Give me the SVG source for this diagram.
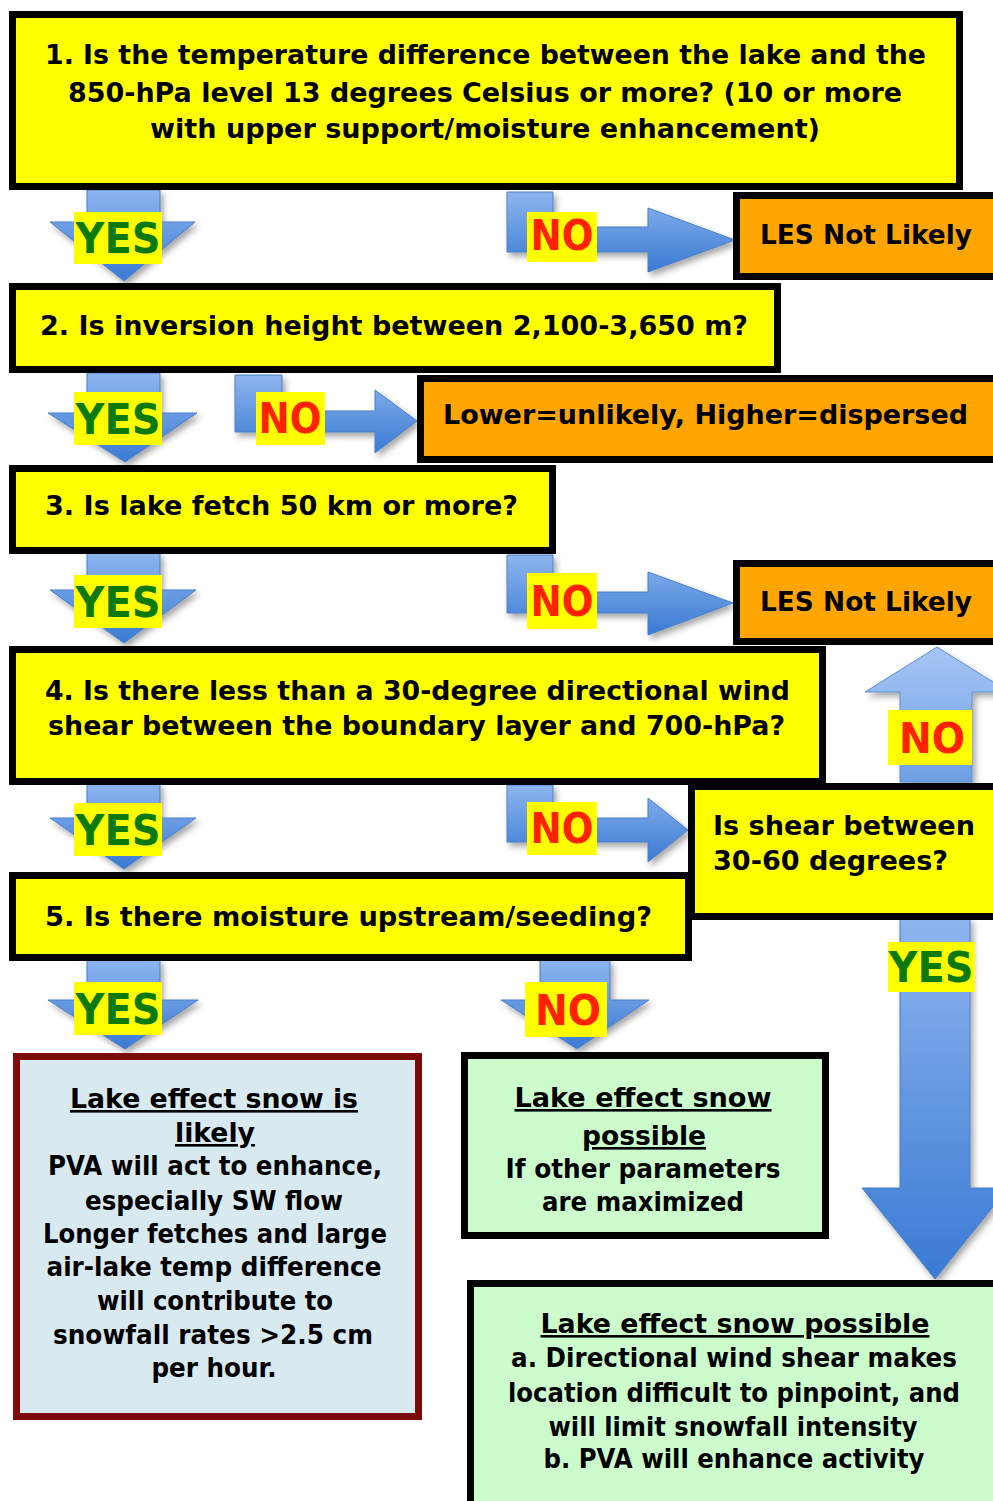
<svg xmlns="http://www.w3.org/2000/svg" width="993" height="1501" viewBox="0 0 993 1501">
<defs>
  <linearGradient id="gArrow" x1="0" y1="0" x2="0" y2="1">
    <stop offset="0" stop-color="#8db5ef"/>
    <stop offset="1" stop-color="#3a7ad3"/>
  </linearGradient>
  <linearGradient id="gUp" x1="0" y1="0" x2="0" y2="1">
    <stop offset="0" stop-color="#a6c6f5"/>
    <stop offset="1" stop-color="#6d9fe2"/>
  </linearGradient>
  <filter id="sh" x="-20%" y="-20%" width="150%" height="150%">
    <feDropShadow dx="3" dy="4" stdDeviation="3" flood-color="#000" flood-opacity="0.35"/>
  </filter>
</defs>
<style>
  .arrow { fill: url(#gArrow); stroke: #4a7fc8; stroke-width: 1; filter: url(#sh); }
  .arrowUp { fill: url(#gUp); stroke: #5c8fd6; stroke-width: 1; filter: url(#sh); }
  .lbl { fill: #ffff00; }
  .yes { font-family: "DejaVu Sans", Verdana, sans-serif; font-weight: bold; font-size: 42px; fill: #0b7a0b; text-anchor: middle; }
  .no { font-family: "DejaVu Sans", Verdana, sans-serif; font-weight: bold; font-size: 42px; fill: #ff2200; text-anchor: middle; }
  .q { fill: #ffff00; stroke: #000; stroke-width: 7; }
  .o { fill: #ffa500; stroke: #000; stroke-width: 7; }
  .g { fill: #ccfccc; stroke: #000; stroke-width: 7; }
  .b { fill: #d8e9f0; stroke: #7d0a0a; stroke-width: 7; }
  .t { font-family: "DejaVu Sans", Verdana, sans-serif; font-weight: bold; font-size: 27px; fill: #000; }
  .s { font-family: "DejaVu Sans", Verdana, sans-serif; font-weight: bold; font-size: 26px; fill: #000; text-anchor: middle; }
  .u { text-decoration: underline; }
</style>

<g id="connectors">
  <path class="arrow" d="M87,190 H160 V222 H195 L124,281 L50,222 H87 Z"/>
  <path class="arrow" d="M87,373 H160 V413 H197 L125,462 L48,413 H87 Z"/>
  <path class="arrow" d="M87,553 H160 V590 H196 L124,643 L50,590 H87 Z"/>
  <path class="arrow" d="M87,784 H160 V818 H196 L124,869 L50,818 H87 Z"/>
  <path class="arrow" d="M87,960 H160 V1000 H198 L125,1049 L48,1000 H87 Z"/>
  <path class="arrow" d="M540,960 H610 V1000 H649 L577,1049 L501,1000 H540 Z"/>
  <path class="arrow" d="M507,192 H553 V227 H648 V208 L735,240 L648,272 V252 H507 Z"/>
  <path class="arrow" d="M235,375 H282 V411 H375 V390 L417,421 L375,453 V432 H235 Z"/>
  <path class="arrow" d="M507,555 H553 V592 H648 V572 L733,603 L648,635 V613 H507 Z"/>
  <path class="arrow" d="M507,785 H553 V818 H648 V798 L688,830 L648,862 V842 H507 Z"/>
  <path class="arrowUp" d="M900,782 V692 H865 L937,647 L1009,692 H972 V782 Z"/>
  <path class="arrow" d="M900,918 H970 V1188 H1008 L935,1279 L862,1188 H900 Z"/>

  <rect class="lbl" x="74" y="212" width="88" height="52"/>
  <text class="yes" x="118" y="253" textLength="85" lengthAdjust="spacingAndGlyphs">YES</text>
  <rect class="lbl" x="74" y="392" width="88" height="53"/>
  <text class="yes" x="118" y="434" textLength="85" lengthAdjust="spacingAndGlyphs">YES</text>
  <rect class="lbl" x="74" y="575" width="88" height="53"/>
  <text class="yes" x="118" y="617" textLength="85" lengthAdjust="spacingAndGlyphs">YES</text>
  <rect class="lbl" x="74" y="803" width="88" height="53"/>
  <text class="yes" x="118" y="845" textLength="85" lengthAdjust="spacingAndGlyphs">YES</text>
  <rect class="lbl" x="74" y="982" width="88" height="53"/>
  <text class="yes" x="118" y="1024" textLength="85" lengthAdjust="spacingAndGlyphs">YES</text>
  <rect class="lbl" x="888" y="942" width="87" height="50"/>
  <text class="yes" x="931" y="982" textLength="85" lengthAdjust="spacingAndGlyphs">YES</text>

  <rect class="lbl" x="527" y="212" width="70" height="50"/>
  <text class="no" x="562" y="250" textLength="63" lengthAdjust="spacingAndGlyphs">NO</text>
  <rect class="lbl" x="256" y="392" width="69" height="53"/>
  <text class="no" x="290" y="433" textLength="63" lengthAdjust="spacingAndGlyphs">NO</text>
  <rect class="lbl" x="527" y="573" width="70" height="56"/>
  <text class="no" x="562" y="616" textLength="63" lengthAdjust="spacingAndGlyphs">NO</text>
  <rect class="lbl" x="527" y="802" width="70" height="53"/>
  <text class="no" x="562" y="843" textLength="63" lengthAdjust="spacingAndGlyphs">NO</text>
  <rect class="lbl" x="525" y="982" width="82" height="55"/>
  <text class="no" x="568" y="1025" textLength="66" lengthAdjust="spacingAndGlyphs">NO</text>
  <rect class="lbl" x="888" y="710" width="84" height="55"/>
  <text class="no" x="932" y="753" textLength="66" lengthAdjust="spacingAndGlyphs">NO</text>
</g>

<g id="q1">
  <rect class="q" x="12.5" y="14.5" width="947" height="172"/>
  <text class="t" x="45" y="64" textLength="881" lengthAdjust="spacingAndGlyphs">1. Is the temperature difference between the lake and the</text>
  <text class="t" x="68" y="102" textLength="834" lengthAdjust="spacingAndGlyphs">850-hPa level 13 degrees Celsius or more? (10 or more</text>
  <text class="t" x="150" y="138" textLength="670" lengthAdjust="spacingAndGlyphs">with upper support/moisture enhancement)</text>
</g>

<g id="les1">
  <rect class="o" x="736.5" y="195.5" width="270" height="81"/>
  <text class="t" x="760" y="244" textLength="212" lengthAdjust="spacingAndGlyphs">LES Not Likely</text>
</g>

<g id="q2">
  <rect class="q" x="12.5" y="286.5" width="765" height="83"/>
  <text class="t" x="40" y="335" textLength="708" lengthAdjust="spacingAndGlyphs">2. Is inversion height between 2,100-3,650 m?</text>
</g>

<g id="inversion">
  <rect class="o" x="420.5" y="378.5" width="580" height="81"/>
  <text class="t" x="443" y="424" textLength="525" lengthAdjust="spacingAndGlyphs">Lower=unlikely, Higher=dispersed</text>
</g>

<g id="q3">
  <rect class="q" x="12.5" y="468.5" width="540" height="82"/>
  <text class="t" x="45" y="515" textLength="473" lengthAdjust="spacingAndGlyphs">3. Is lake fetch 50 km or more?</text>
</g>

<g id="les2">
  <rect class="o" x="736.5" y="563.5" width="270" height="78"/>
  <text class="t" x="760" y="611" textLength="212" lengthAdjust="spacingAndGlyphs">LES Not Likely</text>
</g>

<g id="q4">
  <rect class="q" x="12.5" y="649.5" width="810" height="132"/>
  <text class="t" x="45" y="700" textLength="745" lengthAdjust="spacingAndGlyphs">4. Is there less than a 30-degree directional wind</text>
  <text class="t" x="48" y="735" textLength="737" lengthAdjust="spacingAndGlyphs">shear between the boundary layer and 700-hPa?</text>
</g>

<g id="shear">
  <rect class="q" x="691.5" y="786.5" width="310" height="130"/>
  <text class="t" x="713" y="835" textLength="262" lengthAdjust="spacingAndGlyphs">Is shear between</text>
  <text class="t" x="713" y="870" textLength="235" lengthAdjust="spacingAndGlyphs">30-60 degrees?</text>
</g>

<g id="q5">
  <rect class="q" x="12.5" y="875.5" width="676" height="82"/>
  <text class="t" x="45" y="926" textLength="607" lengthAdjust="spacingAndGlyphs">5. Is there moisture upstream/seeding?</text>
</g>

<g id="likely">
  <rect class="b" x="16.5" y="1056.5" width="402" height="360"/>
  <text class="s u" x="214" y="1108" textLength="288" lengthAdjust="spacingAndGlyphs">Lake effect snow is</text>
  <text class="s u" x="215" y="1142" textLength="80" lengthAdjust="spacingAndGlyphs">likely</text>
  <text class="s" x="215" y="1175" textLength="334" lengthAdjust="spacingAndGlyphs">PVA will act to enhance,</text>
  <text class="s" x="214" y="1210" textLength="258" lengthAdjust="spacingAndGlyphs">especially SW flow</text>
  <text class="s" x="215" y="1243" textLength="344" lengthAdjust="spacingAndGlyphs">Longer fetches and large</text>
  <text class="s" x="214" y="1276" textLength="335" lengthAdjust="spacingAndGlyphs">air-lake temp difference</text>
  <text class="s" x="215" y="1310" textLength="236" lengthAdjust="spacingAndGlyphs">will contribute to</text>
  <text class="s" x="213" y="1344" textLength="320" lengthAdjust="spacingAndGlyphs">snowfall rates &gt;2.5 cm</text>
  <text class="s" x="214" y="1377" textLength="125" lengthAdjust="spacingAndGlyphs">per hour.</text>
</g>

<g id="possible1">
  <rect class="g" x="464.5" y="1055.5" width="361" height="180"/>
  <text class="s u" x="643" y="1107" textLength="257" lengthAdjust="spacingAndGlyphs">Lake effect snow</text>
  <text class="s u" x="644" y="1145" textLength="124" lengthAdjust="spacingAndGlyphs">possible</text>
  <text class="s" x="643" y="1178" textLength="275" lengthAdjust="spacingAndGlyphs">If other parameters</text>
  <text class="s" x="643" y="1211" textLength="202" lengthAdjust="spacingAndGlyphs">are maximized</text>
</g>

<g id="possible2">
  <rect class="g" x="470.5" y="1283.5" width="540" height="230"/>
  <text class="s u" x="735" y="1333" textLength="389" lengthAdjust="spacingAndGlyphs">Lake effect snow possible</text>
  <text class="s" x="734" y="1367" textLength="446" lengthAdjust="spacingAndGlyphs">a. Directional wind shear makes</text>
  <text class="s" x="734" y="1402" textLength="452" lengthAdjust="spacingAndGlyphs">location difficult to pinpoint, and</text>
  <text class="s" x="733" y="1436" textLength="369" lengthAdjust="spacingAndGlyphs">will limit snowfall intensity</text>
  <text class="s" x="734" y="1468" textLength="381" lengthAdjust="spacingAndGlyphs">b. PVA will enhance activity</text>
</g>
</svg>
